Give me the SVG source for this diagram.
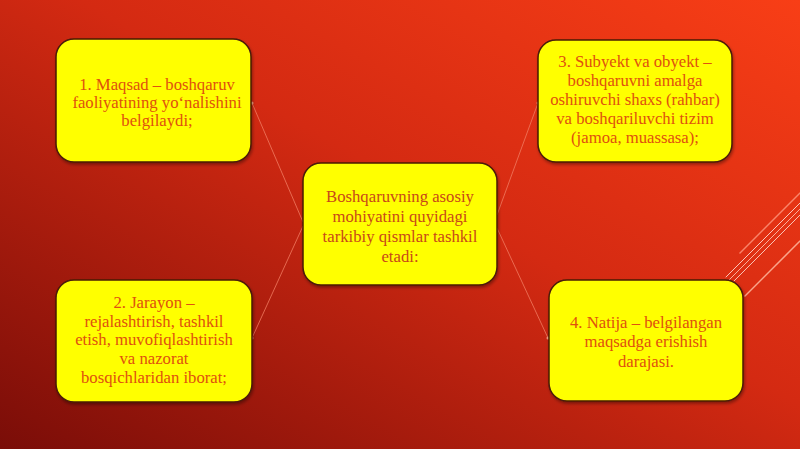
<svg xmlns="http://www.w3.org/2000/svg" width="800" height="449" viewBox="0 0 800 449">
<defs>
<linearGradient id="bg" x1="1" y1="0" x2="0" y2="1">
<stop offset="0" stop-color="#f83e16"/>
<stop offset="0.45" stop-color="#d42a12"/>
<stop offset="1" stop-color="#7a0d08"/>
</linearGradient>
<filter id="sh" x="-10%" y="-10%" width="120%" height="120%">
<feDropShadow dx="1" dy="2" stdDeviation="1.5" flood-color="#000" flood-opacity="0.35"/>
</filter>
<style>
.box{fill:#ffff00;stroke:#4a1a08;stroke-width:1.5;filter:url(#sh)}
.t{font-family:"Liberation Serif","Times New Roman",serif;font-size:16.7px;fill:#e0500e;text-anchor:middle}
.c{fill:#c84818}
.con{stroke:#f07a60;stroke-width:1;fill:none;opacity:0.8}
.dot{fill:#f6a080}
.deco{stroke-linecap:round;fill:none}
</style>
</defs>
<rect width="800" height="449" fill="url(#bg)"/>
<g id="decoration" class="deco">
<line x1="740" y1="253" x2="800" y2="193" stroke="#ff9a80" stroke-width="1.5" opacity="0.8"/>
<line x1="726" y1="277" x2="800" y2="203" stroke="#ffe0d8" stroke-width="1" opacity="0.85"/>
<line x1="729" y1="280" x2="800" y2="209" stroke="#ffd0c0" stroke-width="1" opacity="0.8"/>
<line x1="733" y1="282" x2="800" y2="215" stroke="#ffe8e0" stroke-width="1" opacity="0.8"/>
<line x1="745" y1="296" x2="800" y2="241" stroke="#ffb8a0" stroke-width="1.5" opacity="0.85"/>
</g>
<g id="connectors">
<line class="con" x1="252" y1="103" x2="303" y2="222"/>
<line class="con" x1="252" y1="338" x2="303" y2="226"/>
<line class="con" x1="538" y1="103" x2="497" y2="215"/>
<line class="con" x1="548" y1="338" x2="497" y2="228"/>
<circle class="dot" cx="252" cy="103" r="1.5"/>
<circle class="dot" cx="252" cy="338" r="1.5"/>
<circle class="dot" cx="538" cy="103" r="1.5"/>
<circle class="dot" cx="548" cy="338" r="1.5"/>
</g>
<g id="node-center">
<rect class="box" x="303" y="163" width="194" height="122" rx="18"/>
<text class="t c" x="400" y="202">Boshqaruvning asosiy</text>
<text class="t c" x="400" y="222">mohiyatini quyidagi</text>
<text class="t c" x="400" y="242">tarkibiy qismlar tashkil</text>
<text class="t c" x="400" y="262">etadi:</text>
</g>
<g id="node-1">
<rect class="box" x="56" y="39" width="195" height="123" rx="18"/>
<text class="t" x="157" y="90">1. Maqsad – boshqaruv</text>
<text class="t" x="157" y="108">faoliyatining yo‘nalishini</text>
<text class="t" x="157" y="126">belgilaydi;</text>
</g>
<g id="node-2">
<rect class="box" x="56" y="280" width="196" height="122" rx="18"/>
<text class="t" x="154" y="308">2. Jarayon –</text>
<text class="t" x="154" y="327">rejalashtirish, tashkil</text>
<text class="t" x="154" y="345">etish, muvofiqlashtirish</text>
<text class="t" x="154" y="364">va nazorat</text>
<text class="t" x="154" y="383">bosqichlaridan iborat;</text>
</g>
<g id="node-3">
<rect class="box" x="538" y="40" width="194" height="122" rx="18"/>
<text class="t" x="635" y="67">3. Subyekt va obyekt –</text>
<text class="t" x="635" y="86">boshqaruvni amalga</text>
<text class="t" x="635" y="105">oshiruvchi shaxs (rahbar)</text>
<text class="t" x="635" y="124">va boshqariluvchi tizim</text>
<text class="t" x="635" y="143">(jamoa, muassasa);</text>
</g>
<g id="node-4">
<rect class="box" x="549" y="280" width="194" height="121" rx="18"/>
<text class="t" x="646" y="328">4. Natija – belgilangan</text>
<text class="t" x="646" y="347">maqsadga erishish</text>
<text class="t" x="646" y="367">darajasi.</text>
</g>
</svg>
